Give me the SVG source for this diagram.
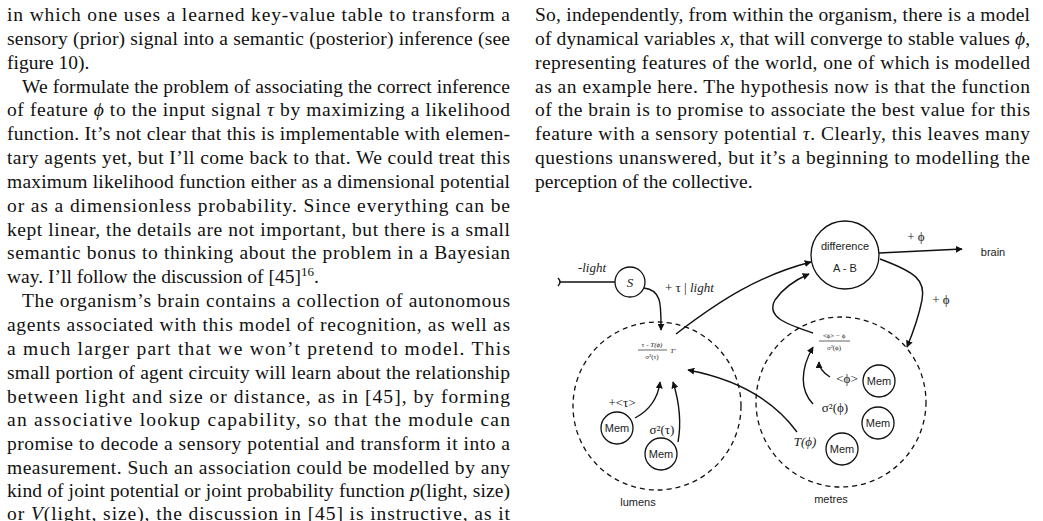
<svg xmlns="http://www.w3.org/2000/svg" width="1043" height="521" viewBox="0 0 1043 521">
<style>
.t{font-family:"Liberation Serif",serif;font-size:19.5px;fill:#111}
.i{font-style:italic}
.s{font-family:"Liberation Sans",sans-serif;font-size:11px;fill:#222;text-anchor:middle}
.m{font-family:"Liberation Serif",serif;font-size:13px;fill:#222;text-anchor:middle}
.mi{font-family:"Liberation Serif",serif;font-size:13px;fill:#222;font-style:italic;text-anchor:middle}
.f{font-family:"Liberation Serif",serif;font-size:7px;fill:#222;text-anchor:middle}
.n{fill:#fff;stroke:#111;stroke-width:1.3}
.d{fill:none;stroke:#111;stroke-width:1.3;stroke-dasharray:5 4}
.c{fill:none;stroke:#111;stroke-width:1.4;marker-end:url(#a)}
</style>
<defs>
<marker id="a" viewBox="0 0 10 10" refX="9" refY="5" markerWidth="7" markerHeight="7" orient="auto" markerUnits="userSpaceOnUse"><path d="M0,0 L10,5 L0,10 z" fill="#111"/></marker>
</defs>
<rect width="1043" height="521" fill="#fff"/>
<g id="leftcol" class="t">
<text x="7" y="21" textLength="503" lengthAdjust="spacing">in which one uses a learned key-value table to transform a</text>
<text x="7" y="45" textLength="503" lengthAdjust="spacing">sensory (prior) signal into a semantic (posterior) inference (see</text>
<text x="7" y="69">figure 10).</text>
<text x="22" y="93" textLength="488" lengthAdjust="spacing">We formulate the problem of associating the correct inference</text>
<text x="7" y="116" textLength="503" lengthAdjust="spacing">of feature <tspan class="i">ϕ</tspan> to the input signal <tspan class="i">τ</tspan> by maximizing a likelihood</text>
<text x="7" y="140" textLength="503" lengthAdjust="spacing">function. It’s not clear that this is implementable with elemen-</text>
<text x="7" y="164" textLength="503" lengthAdjust="spacing">tary agents yet, but I’ll come back to that. We could treat this</text>
<text x="7" y="188" textLength="503" lengthAdjust="spacing">maximum likelihood function either as a dimensional potential</text>
<text x="7" y="212" textLength="503" lengthAdjust="spacing">or as a dimensionless probability. Since everything can be</text>
<text x="7" y="236" textLength="503" lengthAdjust="spacing">kept linear, the details are not important, but there is a small</text>
<text x="7" y="259" textLength="503" lengthAdjust="spacing">semantic bonus to thinking about the problem in a Bayesian</text>
<text x="7" y="283">way. I’ll follow the discussion of [45]<tspan font-size="13" dy="-7">16</tspan><tspan dy="7">.</tspan></text>
<text x="22" y="307" textLength="488" lengthAdjust="spacing">The organism’s brain contains a collection of autonomous</text>
<text x="7" y="331" textLength="503" lengthAdjust="spacing">agents associated with this model of recognition, as well as</text>
<text x="7" y="355" textLength="503" lengthAdjust="spacing">a much larger part that we won’t pretend to model. This</text>
<text x="7" y="379" textLength="503" lengthAdjust="spacing">small portion of agent circuity will learn about the relationship</text>
<text x="7" y="403" textLength="503" lengthAdjust="spacing">between light and size or distance, as in [45], by forming</text>
<text x="7" y="426" textLength="503" lengthAdjust="spacing">an associative lookup capability, so that the module can</text>
<text x="7" y="450" textLength="503" lengthAdjust="spacing">promise to decode a sensory potential and transform it into a</text>
<text x="7" y="474" textLength="503" lengthAdjust="spacing">measurement. Such an association could be modelled by any</text>
<text x="7" y="497" textLength="503" lengthAdjust="spacing">kind of joint potential or joint probability function <tspan class="i">p</tspan>(light, size)</text>
<text x="7" y="520" textLength="503" lengthAdjust="spacing">or <tspan class="i">V</tspan>(light, size), the discussion in [45] is instructive, as it</text>
</g>
<g id="rightcol" class="t">
<text x="535" y="21" textLength="495" lengthAdjust="spacing">So, independently, from within the organism, there is a model</text>
<text x="535" y="45" textLength="495" lengthAdjust="spacing">of dynamical variables <tspan class="i">x</tspan>, that will converge to stable values <tspan class="i">ϕ</tspan>,</text>
<text x="535" y="69" textLength="495" lengthAdjust="spacing">representing features of the world, one of which is modelled</text>
<text x="535" y="93" textLength="495" lengthAdjust="spacing">as an example here. The hypothesis now is that the function</text>
<text x="535" y="116" textLength="495" lengthAdjust="spacing">of the brain is to promise to associate the best value for this</text>
<text x="535" y="140" textLength="495" lengthAdjust="spacing">feature with a sensory potential <tspan class="i">τ</tspan>. Clearly, this leaves many</text>
<text x="535" y="164" textLength="495" lengthAdjust="spacing">questions unanswered, but it’s a beginning to modelling the</text>
<text x="535" y="188">perception of the collective.</text>
</g>
<g id="connectors">
<path d="M560,282 H615" fill="none" stroke="#111" stroke-width="1.4"/>
<path d="M558,278 Q562,282 558,286" fill="none" stroke="#111" stroke-width="1.4"/>
<path class="c" d="M644,288 C662,290 661,305 661,330"/>
<path class="c" d="M676,334 C720,300 760,275 811,262"/>
<path class="c" d="M635,418 C650,410 658,398 660,382"/>
<path class="c" d="M678,442 C682,420 678,398 673,382"/>
<path class="c" d="M797,432 C770,395 730,378 688,370"/>
<path class="c" d="M879,253 L962,249"/>
<path class="c" d="M880,259 C915,272 926,280 922,300 C918,320 912,335 907,347"/>
<path class="c" d="M813,333 C790,325 765,318 775,300 C782,290 795,280 809,274"/>
<path class="c" d="M830,377 C822,372 819,368 819,362"/>
<path class="c" d="M813,404 C800,390 800,370 813,347"/>
</g>
<g id="lumens"><circle class="d" cx="657" cy="406" r="84"/><text class="s" x="638" y="506">lumens</text></g>
<g id="metres"><circle class="d" cx="841" cy="402" r="85"/><text class="s" x="831" y="503">metres</text></g>
<g id="S"><circle class="n" cx="630" cy="282" r="15"/><text class="mi" x="630" y="287">S</text><text class="mi" x="592" y="272">-light</text></g>
<g id="S-label"><text class="m" x="665" y="292" style="text-anchor:start">+ τ | <tspan font-style="italic">light</tspan></text></g>
<g id="difference"><circle class="n" cx="845" cy="255" r="34"/><text class="s" x="845" y="250">difference</text><text class="s" x="845" y="272">A - B</text></g>
<g id="brain"><text class="s" x="993" y="256">brain</text><text class="m" x="916" y="241">+ ϕ</text><text class="m" x="941" y="304">+ ϕ</text></g>
<g id="lumens-formula"><text class="f" x="652" y="347">τ - <tspan font-style="italic">T(ϕ)</tspan></text><line x1="638" y1="350" x2="667" y2="350" stroke="#222" stroke-width="0.7"/><text class="f" x="652" y="359">σ²(τ)</text><text class="f" x="673" y="353" font-style="italic">T'</text></g>
<g id="metres-formula"><text class="f" x="834" y="338">&lt;ϕ&gt; − ϕ</text><line x1="819" y1="341" x2="850" y2="341" stroke="#222" stroke-width="0.7"/><text class="f" x="834" y="350">σ²(ϕ)</text></g>
<g id="mem1"><circle class="n" cx="617" cy="428" r="16"/><text class="s" x="617" y="432">Mem</text><text class="m" x="622" y="407">+&lt;τ&gt;</text></g>
<g id="mem2"><circle class="n" cx="661" cy="454" r="16"/><text class="s" x="661" y="458">Mem</text><text class="m" x="662" y="434">σ²(τ)</text></g>
<g id="mem3"><circle class="n" cx="879" cy="381" r="16"/><text class="s" x="879" y="385">Mem</text><text class="m" x="847" y="383">&lt;ϕ&gt;</text></g>
<g id="mem4"><circle class="n" cx="878" cy="423" r="16"/><text class="s" x="878" y="427">Mem</text><text class="m" x="835" y="412">σ²(ϕ)</text></g>
<g id="mem5"><circle class="n" cx="842" cy="449" r="16"/><text class="s" x="842" y="453">Mem</text><text class="mi" x="805" y="446">T(ϕ)</text></g>
</svg>
